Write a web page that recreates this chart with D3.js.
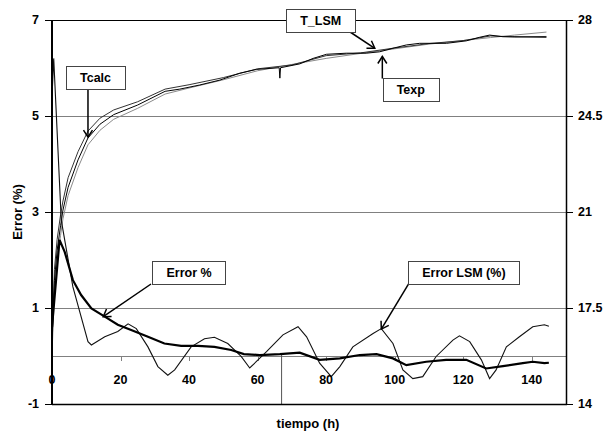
<!DOCTYPE html>
<html><head><meta charset="utf-8">
<script src="https://cdn.jsdelivr.net/npm/d3@7"></script>
<style>body{margin:0;background:#fff}svg{display:block}text{font-family:"Liberation Sans",Arial,sans-serif;font-weight:bold}</style>
</head><body><svg id="c" width="608" height="442"></svg>
<script>
// ---- data ----
const leftTicks = [-1, 1, 3, 5, 7];
const rightTicks = [14, 17.5, 21, 24.5, 28];
const xTicks = [0, 20, 40, 60, 80, 100, 120, 140];
const gridLeft = [1, 3, 5];

const tExp = [0, 0.7, 1.5, 2.5, 3.2, 4.7, 7.6, 10.5, 14, 18, 25, 33, 37.3, 43.1, 49, 54.8, 59.7, 66.3, 66.5, 66.7, 72.3, 76.2, 80.1, 85.9, 91.7, 95.6, 99.5, 103.4, 107.3, 115.1, 120.9, 124.8, 127.7, 131.6, 134.5, 144.3];
const Texp = [16.3, 18.5, 19.6, 20.5, 21.07, 21.9, 22.9, 23.7, 24.2, 24.55, 24.9, 25.4, 25.48, 25.63, 25.81, 26.06, 26.2, 26.26, 25.88, 26.26, 26.4, 26.6, 26.75, 26.79, 26.79, 26.84, 26.97, 27.09, 27.15, 27.15, 27.24, 27.37, 27.45, 27.39, 27.39, 27.37];

const tModel = [0, 0.7, 1.5, 2.5, 3.2, 4.7, 7.6, 10.5, 14, 18, 25, 33, 40, 50, 60, 70, 80, 90, 100, 110, 120, 128, 135, 144.3];
const Tcalc = [16.0, 18.9, 20.0, 20.9, 21.4, 22.25, 23.2, 23.95, 24.42, 24.72, 25.02, 25.48, 25.64, 25.9, 26.22, 26.36, 26.7, 26.8, 26.98, 27.14, 27.25, 27.42, 27.38, 27.4];
const T_LSM = [15.8, 18.1, 19.25, 20.15, 20.75, 21.6, 22.62, 23.45, 23.98, 24.38, 24.78, 25.3, 25.52, 25.82, 26.15, 26.38, 26.6, 26.78, 26.95, 27.12, 27.25, 27.36, 27.45, 27.56];

const tErr = [0, 2.2, 3.7, 6.1, 8.5, 11.5, 15.4, 19.2, 23.1, 28, 32.8, 37.7, 42.6, 47.4, 52.3, 56, 60.6, 66.5, 72.3, 78.1, 84, 89.8, 94.7, 99.5, 103.4, 109.2, 115, 120.9, 126.7, 131.6, 137.4, 140.3, 143.7, 145];
const errPct = [0.6, 2.42, 2.17, 1.58, 1.27, 0.99, 0.82, 0.65, 0.54, 0.40, 0.26, 0.21, 0.21, 0.19, 0.125, 0.04, 0.02, 0.04, 0.07, -0.08, -0.05, 0.02, 0.04, -0.05, -0.19, -0.12, -0.08, -0.08, -0.26, -0.21, -0.15, -0.12, -0.15, -0.14];
const tSpike = [67, 67];
const errSpike = [0.04, -1];

const tLsm = [0, 0.5, 2.7, 6.1, 10.5, 11.5, 15.4, 19.2, 22.2, 24.6, 28, 30.9, 33.8, 35.8, 40.6, 44.5, 47.4, 51.3, 55.2, 57.7, 62.6, 67.4, 71.8, 74.3, 78.1, 81.5, 84, 87.8, 93.7, 96.1, 99.5, 102.4, 105.3, 108.2, 112.1, 117, 118.9, 121.9, 125.3, 127.7, 129.6, 132.6, 136.4, 140.3, 143.7, 145];
const errLsm = [5.4, 6.2, 2.83, 1.44, 0.30, 0.23, 0.40, 0.51, 0.67, 0.57, 0.19, -0.22, -0.40, -0.29, 0.19, 0.36, 0.39, 0.26, -0.01, -0.25, 0.09, 0.44, 0.61, 0.40, -0.15, -0.43, -0.22, 0.19, 0.47, 0.57, 0.26, -0.29, -0.47, -0.43, -0.01, 0.33, 0.42, 0.30, -0.08, -0.47, -0.29, 0.19, 0.40, 0.61, 0.65, 0.62];

// annotations: label, box centre (t, left value), arrow start (t, left value), arrow tip (t, left value)
const annLabels = ["Tcalc", "T_LSM", "Texp", "Error %", "Error LSM (%)"];
const annBox = [[12.7, 5.80], [78.4, 6.98], [104.7, 5.55], [40.0, 1.74], [120.2, 1.74]];
const annFrom = [[10.5, 5.57], [87.0, 6.75], [96.4, 5.78], [28.9, 1.50], [104.2, 1.52]];
const annTo = [[10.5, 4.56], [94.2, 6.41], [96.4, 6.24], [14.96, 0.82], [96.1, 0.56]];

// ---- chart ----
const svg = d3.select("#c");
const L = 52, R = 566, T = 20, B = 404;
const x = d3.scaleLinear().domain([0, 150]).range([L, R]);
const yL = d3.scaleLinear().domain([-1, 7]).range([B, T]);
const yR = d3.scaleLinear().domain([14, 28]).range([B, T]);

svg.append("defs").append("clipPath").attr("id", "clip")
  .append("rect").attr("x", L).attr("y", T).attr("width", R - L).attr("height", B - T);
const m = svg.select("defs").append("marker").attr("id", "arr")
  .attr("viewBox", "-10 -6 12 12").attr("refX", 0).attr("refY", 0)
  .attr("markerWidth", 12).attr("markerHeight", 12).attr("markerUnits", "userSpaceOnUse")
  .attr("orient", "auto");
m.append("path").attr("d", "M-7,-4.5 L0,0 L-7,4.5").attr("fill", "none").attr("stroke", "#000").attr("stroke-width", 1.5);

// gridlines
svg.append("g").selectAll("line").data(gridLeft).join("line")
  .attr("x1", L).attr("x2", R).attr("y1", d => yL(d) + 0.5).attr("y2", d => yL(d) + 0.5)
  .attr("stroke", "#808080").attr("stroke-width", 1);
// x axis at 0
svg.append("line").attr("x1", L).attr("x2", R).attr("y1", yL(0) + 0.5).attr("y2", yL(0) + 0.5)
  .attr("stroke", "#808080");
svg.append("g").selectAll("line").data(xTicks.filter(d => d > 0)).join("line")
  .attr("x1", d => Math.round(x(d)) + 0.5).attr("x2", d => Math.round(x(d)) + 0.5)
  .attr("y1", yL(0)).attr("y2", yL(0) + 5).attr("stroke", "#808080");

const clipG = svg.append("g").attr("clip-path", "url(#clip)");
const line = (ts, vs, yScale) => d3.line().x((d, i) => x(ts[i])).y(d => yScale(d))(vs);

clipG.append("path").attr("d", line(tModel, T_LSM, yR)).attr("fill", "none").attr("stroke", "#8a8a8a").attr("stroke-width", 1);
clipG.append("path").attr("d", line(tModel, Tcalc, yR)).attr("fill", "none").attr("stroke", "#333").attr("stroke-width", 1);
clipG.append("path").attr("d", line(tExp, Texp, yR)).attr("fill", "none").attr("stroke", "#000").attr("stroke-width", 1);
clipG.append("path").attr("d", line(tSpike, errSpike, yL)).attr("fill", "none").attr("stroke", "#555").attr("stroke-width", 1);
clipG.append("path").attr("d", line(tLsm, errLsm, yL)).attr("fill", "none").attr("stroke", "#111").attr("stroke-width", 1.1);
clipG.append("path").attr("d", line(tErr, errPct, yL)).attr("fill", "none").attr("stroke", "#000").attr("stroke-width", 2.2);

// border
svg.append("line").attr("x1", L).attr("x2", R).attr("y1", T + 0.5).attr("y2", T + 0.5).attr("stroke", "#000");
svg.append("line").attr("x1", L).attr("x2", R + 1).attr("y1", B + 0.5).attr("y2", B + 0.5).attr("stroke", "#000").attr("stroke-width", 1.5);
svg.append("line").attr("x1", R + 0.5).attr("x2", R + 0.5).attr("y1", T).attr("y2", B).attr("stroke", "#000").attr("stroke-width", 1.5);
svg.append("line").attr("x1", L).attr("x2", L).attr("y1", T).attr("y2", B + 1).attr("stroke", "#000").attr("stroke-width", 2);

// left axis ticks & labels
const gl = svg.append("g");
gl.selectAll("line").data(leftTicks).join("line")
  .attr("x1", L - 7).attr("x2", L).attr("y1", d => yL(d) + 0.5).attr("y2", d => yL(d) + 0.5).attr("stroke", "#000");
gl.selectAll("text").data(leftTicks).join("text")
  .attr("x", L - 13).attr("y", d => yL(d)).attr("dy", "0.35em").attr("text-anchor", "end")
  .attr("font-size", 12.5).text(d => d);
// right axis
const gr = svg.append("g");
gr.selectAll("line").data(rightTicks).join("line")
  .attr("x1", R).attr("x2", R + 7).attr("y1", d => yR(d) + 0.5).attr("y2", d => yR(d) + 0.5).attr("stroke", "#000");
gr.selectAll("text").data(rightTicks).join("text")
  .attr("x", R + 12).attr("y", d => yR(d)).attr("dy", "0.35em").attr("text-anchor", "start")
  .attr("font-size", 12.5).text(d => d);
// x labels
svg.append("g").selectAll("text").data(xTicks).join("text")
  .attr("x", d => x(d)).attr("y", yL(0) + 24).attr("dy", "0.35em").attr("text-anchor", "middle")
  .attr("font-size", 12.5).text(d => d);

// titles
svg.append("text").attr("transform", `translate(17,${(T + B) / 2}) rotate(-90)`)
  .attr("text-anchor", "middle").attr("dy", "0.35em").attr("font-size", 13).text("Error (%)");
svg.append("text").attr("x", (L + R) / 2 - 1).attr("y", 423).attr("text-anchor", "middle").attr("dy", "0.35em")
  .attr("font-size", 13).text("tiempo (h)");

// annotations
const ga = svg.append("g");
annLabels.forEach((lab, i) => {
  ga.append("line")
    .attr("x1", x(annFrom[i][0])).attr("y1", yL(annFrom[i][1]))
    .attr("x2", x(annTo[i][0])).attr("y2", yL(annTo[i][1]))
    .attr("stroke", "#000").attr("stroke-width", 1.5).attr("marker-end", "url(#arr)");
});
annLabels.forEach((lab, i) => {
  const cx = x(annBox[i][0]), cy = yL(annBox[i][1]);
  const g = ga.append("g");
  const r = g.append("rect");
  const t = g.append("text").attr("x", cx).attr("y", cy).attr("dy", "0.35em").attr("text-anchor", "middle")
    .attr("font-size", 12.5).text(lab);
  const w = t.node().getComputedTextLength() + 28, h = 23;
  r.attr("x", Math.round(cx - w / 2) + 0.5).attr("y", Math.round(cy - h / 2) + 0.5).attr("width", Math.round(w)).attr("height", h)
    .attr("fill", "#fff").attr("stroke", "#444");
});
</script></body></html>
